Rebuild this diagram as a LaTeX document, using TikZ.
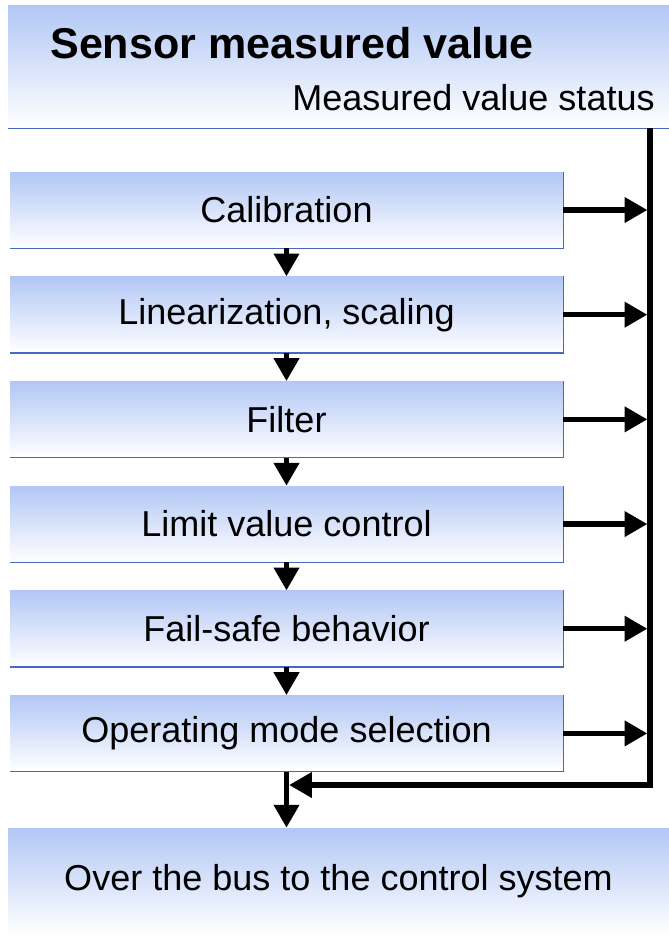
\documentclass[tikz,border=0pt]{standalone}
\usepackage{fontspec}
\setmainfont{Liberation Sans}
\usetikzlibrary{positioning, arrows.meta}
\definecolor{boxblue}{RGB}{178,199,245}
\definecolor{edgeblue}{RGB}{72,104,190}

\begin{document}
\begin{tikzpicture}[x=0.02cm, y=-0.02cm,
    stage/.style={top color=boxblue, bottom color=white, minimum width=11.06cm,
        minimum height=1.52cm, inner sep=0pt, font=\fontsize{20.5}{24}\selectfont},
    band/.style={top color=boxblue, bottom color=white, minimum width=13.22cm, inner sep=0pt},
    flow/.style={line width=3pt, -{Triangle[length=13pt,width=14pt]}},
    rim/.style={edgeblue, line width=0.8pt}]
    \useasboundingbox (0,0) rectangle (669,938);

    % header
    \node[band, minimum height=2.46cm] (head) at (338.5,66.5) {};
    \node[anchor=west, inner sep=0pt, font=\fontsize{24.5}{28}\selectfont\bfseries] (title) at (50,43) {Sensor measured value};
    \node[anchor=east, inner sep=0pt, font=\fontsize{20.5}{24}\selectfont] (status) at (655,98) {Measured value status};
    \draw[rim] (head.south west) -- (head.south east);

    % processing stages
    \node[stage] (cal) at (286.5,210) {Calibration};
    \node[stage, below=0.56cm of cal ] (lin)  {Linearization, scaling};
    \node[stage, below=0.56cm of lin ] (fil)  {Filter};
    \node[stage, below=0.56cm of fil ] (lim)  {Limit value control};
    \node[stage, below=0.56cm of lim ] (fail) {Fail-safe behavior};
    \node[stage, below=0.56cm of fail] (op)   {Operating mode selection};
    \foreach \n in {cal,lin,fil,lim,fail,op}
        \draw[rim] (\n.north east) -- (\n.south east) -- (\n.south west);

    % output
    \node[band, minimum height=2.14cm, font=\fontsize{20.5}{24}\selectfont] (out) at (338.5,881.5) {Over the bus to the control system};

    % status rail
    \coordinate (rail) at (650,0);
    \coordinate (join) at (650,785);
    \foreach \n in {cal,lin,fil,lim,fail,op}
        \draw[flow] (\n.east) -- ([xshift=-1.5pt]\n.east -| rail);
    \draw[flow] (head.south -| rail) |- ([xshift=1.5pt]op.south |- join);

    % main flow
    \draw[flow] (cal) -- (lin);
    \draw[flow] (lin) -- (fil);
    \draw[flow] (fil) -- (lim);
    \draw[flow] (lim) -- (fail);
    \draw[flow] (fail) -- (op);
    \draw[flow] (op.south) -- (op.south |- out.north);
\end{tikzpicture}
\end{document}
